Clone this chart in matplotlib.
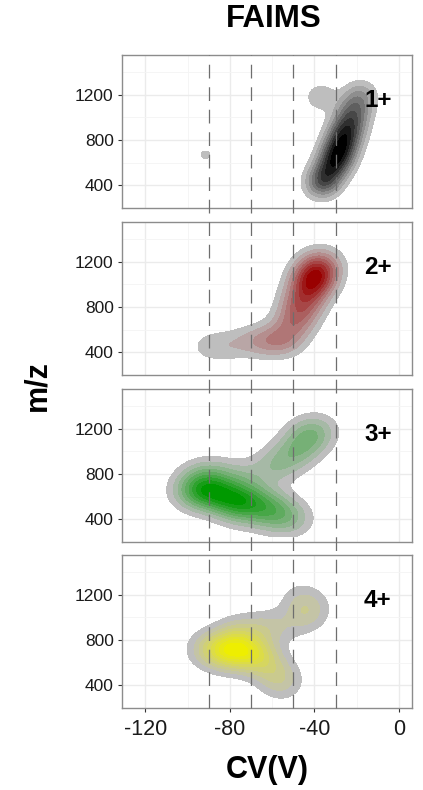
import numpy as np
import matplotlib.pyplot as plt
from matplotlib.colors import LinearSegmentedColormap
from matplotlib.lines import Line2D
from matplotlib import transforms

plt.rcParams['font.family'] = ['Liberation Sans', 'DejaVu Sans']
plt.rcParams['axes.unicode_minus'] = False

# ridge points: CV (V), m/z, relative weight
cv_1 = [-37, -36, -33, -30, -28, -26, -24, -22, -20, -18, -37, -91.5]
mz_1 = [390, 430, 520, 620, 720, 820, 920, 1020, 1120, 1220, 1180, 670]
w_1 = [0.35, 0.6, 0.8, 1.0, 1.0, 0.9, 0.8, 0.6, 0.5, 0.35, 0.35, 0.22]

cv_2 = [-90, -80, -70, -62, -54, -50, -47, -44, -41, -39, -37]
mz_2 = [450, 460, 500, 500, 500, 640, 770, 900, 1020, 1100, 1200]
w_2 = [0.26, 0.25, 0.28, 0.45, 0.5, 0.6, 0.75, 0.9, 1.0, 1.0, 0.6]

cv_3 = [-98, -92, -85, -78, -70, -62, -55, -50, -75, -62, -60, -52, -46, -42,
        -88, -74, -38, -96]
mz_3 = [640, 650, 620, 570, 560, 520, 450, 390, 480, 430, 850, 950, 1050, 1150,
        790, 770, 1200, 770]
w_3 = [0.6, 1.0, 0.9, 1.0, 0.8, 0.6, 0.5, 0.4, 0.4, 0.35, 0.5, 0.55, 0.55, 0.6,
       0.55, 0.45, 0.3, 0.3]

cv_4 = [-90, -83, -77, -70, -64, -58, -55, -76, -64, -55, -45, -42, -47]
mz_4 = [720, 710, 700, 690, 620, 500, 410, 860, 900, 920, 1000, 1090, 1180]
w_4 = [0.6, 0.9, 1.0, 0.85, 0.6, 0.45, 0.35, 0.55, 0.45, 0.2, 0.35, 0.35, 0.25]

charges = ['1+', '2+', '3+', '4+']
high_colors = ['#000000', '#990000', '#009900', '#EEEE00']
cv_marks = [-90, -70, -50, -30]
bw_cv = [5.5, 7, 7.5, 7]
bw_mz = [90, 100, 110, 110]

panels = [(cv_1, mz_1, w_1), (cv_2, mz_2, w_2), (cv_3, mz_3, w_3), (cv_4, mz_4, w_4)]

gx = np.linspace(-131, 6, 350)
gy = np.linspace(250, 1550, 350)
X, Y = np.meshgrid(gx, gy)

def density(cv, mz, w, bx, by):
    Z = np.zeros_like(X)
    for c, m, wt in zip(cv, mz, w):
        Z += wt * np.exp(-0.5 * (((X - c) / bx) ** 2 + ((Y - m) / by) ** 2))
    return Z

fig = plt.figure(figsize=(4.23, 7.90), dpi=100)
W, H = 423, 790
left, right = 122, 411.7
tops = [55, 222, 389, 555]
ph = 153
axes = []
for i, (cv, mz, w) in enumerate(panels):
    ax = fig.add_axes([left / W, 1 - (tops[i] + ph) / H, (right - left) / W, ph / H])
    axes.append(ax)
    Z = density(cv, mz, w, bw_cv[i], bw_mz[i])
    levels = np.linspace(0, Z.max(), 11)[1:]
    levels[-1] = Z.max() * 1.001
    cmap = LinearSegmentedColormap.from_list('c%d' % i, ['#BEBEBE', high_colors[i]])
    n = len(levels) - 1
    cols = [cmap(k / (n - 1)) for k in range(n)]
    ax.contourf(X, Y, Z, levels=levels, colors=cols, zorder=2)

    ax.set_xlim(-131, 6)
    ax.set_ylim(254, 1551)
    ax.set_xticks([-120, -80, -40, 0])
    ax.set_xticks([-100, -60, -20], minor=True)
    ax.set_yticks([400, 800, 1200])
    ax.set_yticks([200, 600, 1000, 1400], minor=True)
    ax.grid(which='major', color='#EBEBEB', lw=1.0, zorder=0)
    ax.grid(which='minor', color='#F4F4F4', lw=0.6, zorder=0)
    ax.set_axisbelow(True)
    for s in ax.spines.values():
        s.set_color('#8C8C8C')
        s.set_linewidth(1.0)
    ax.tick_params(axis='y', which='major', length=3, color='#333333', labelsize=12.5,
                   labelcolor='#1A1A1A', pad=3)
    ax.tick_params(which='minor', length=0)
    if i < 3:
        ax.tick_params(axis='x', which='major', length=0, labelbottom=False)
    else:
        ax.tick_params(axis='x', which='major', length=3, color='#333333', labelsize=15.5,
                       labelcolor='#1A1A1A', pad=5)
    ax.text(-10, 1150, charges[i], fontsize=17.5, fontweight='bold', ha='center', va='center',
            zorder=5)

# dashed CV guides running through all panels
trans = transforms.blended_transform_factory(axes[3].transData, fig.transFigure)
y_lo = 1 - (tops[3] + ph) / H
y_hi = 1 - tops[0] / H
for c in cv_marks:
    fig.add_artist(Line2D([c, c], [y_lo, y_hi], transform=trans, color='#6E6E6E', lw=0.9,
                          linestyle=(0, (11, 7)), zorder=10))

fig.text(274 / W, 1 - 19 / H, 'FAIMS', fontsize=22.5, fontweight='bold', ha='center', va='center')
fig.text(37 / W, 1 - 386 / H, 'm/z', fontsize=22, fontweight='bold', rotation=90,
         ha='center', va='center')
fig.text((left + right) / 2 / W, 1 - 770 / H, 'CV(V)', fontsize=22, fontweight='bold',
         ha='center', va='center')

fig.savefig('out.png', dpi=100)
